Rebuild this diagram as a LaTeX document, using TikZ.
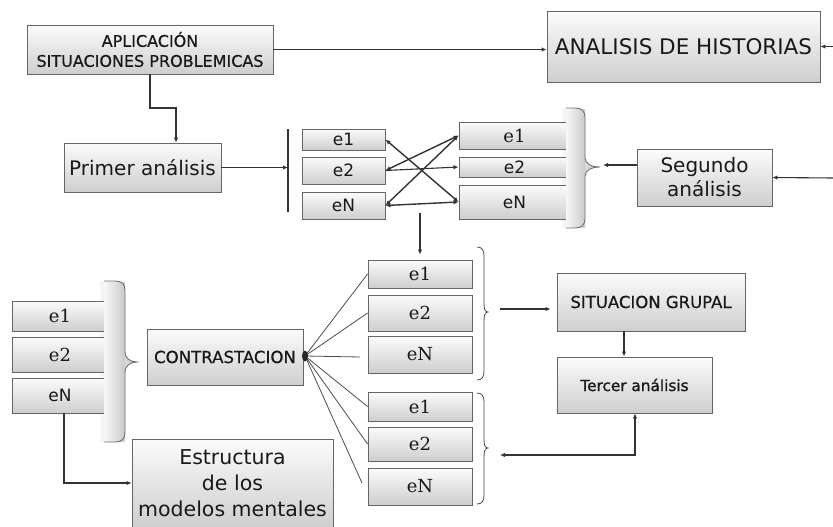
\documentclass[tikz,border=0pt]{standalone}
\usepackage{fontspec}
\newfontfamily\dvs{DejaVu Sans}
\newfontfamily\dvsm[FakeBold=0.6]{DejaVu Sans}
\newfontfamily\dvsb[FakeBold=1.2]{DejaVu Sans}
\newfontfamily\dvserif{DejaVu Serif}
\usetikzlibrary{arrows.meta,shadows}
\tikzset{
  box/.style={draw=black!60, line width=0.9pt, top color=gray!3, bottom color=gray!38,
    inner sep=0pt, align=center, text=black!90,
    drop shadow={shadow xshift=1.3pt, shadow yshift=-1.3pt, opacity=0.3}},
  sbox/.style={box, font=\dvs\fontsize{20}{25}\selectfont},
  ebox/.style={box, font=\dvserif\fontsize{18}{20}\selectfont},
  esbox/.style={box, font=\dvs\fontsize{17}{20}\selectfont},
  conn/.style={draw=black!80, line width=1.1pt},
  xconn/.style={draw=black!80, line width=1.4pt},
  thin/.style={draw=black!70, line width=0.8pt},
  arr/.style={conn, -{Latex[length=5pt,width=4.5pt]}},
  darr/.style={xconn, {Latex[length=5pt,width=4.5pt]}-{Latex[length=5pt,width=4.5pt]}},
  panel/.style={left color=gray!6, right color=gray!42},
  panelline/.style={draw=black!55, line width=0.9pt},
}
\begin{document}
\begin{tikzpicture}[x=1pt,y=-1pt]
\useasboundingbox (0,0) rectangle (833,527);

% gray panels (behind boxes' right ends)
\path[panel] (562,108) -- (575,108) .. controls (582,108) and (585,111) .. (585,118) -- (585,158)
  .. controls (585,164) and (592,167) .. (600,167) .. controls (592,167) and (585,170) .. (585,176)
  -- (585,218) .. controls (585,225) and (582,228) .. (575,228) -- (562,228) -- cycle;
\path[panel] (100,281) -- (115,281) .. controls (122,281) and (125,284) .. (125,291) -- (125,352)
  .. controls (125,358) and (130,362) .. (137,362) .. controls (130,362) and (125,366) .. (125,372)
  -- (125,432) .. controls (125,439) and (122,442) .. (115,442) -- (100,442) -- cycle;

% top row
\node[box, font=\dvsm\fontsize{16}{20}\selectfont, minimum width=246pt, minimum height=49pt]
  (apl) at (150,49.5) {APLICACIÓN\\SITUACIONES PROBLEMICAS};
\node[box, font=\dvs\fontsize{21.5}{24}\selectfont, minimum width=273pt, minimum height=71pt]
  (ana) at (683.5,46.5) {ANALISIS DE HISTORIAS};

% second row
\node[sbox, minimum width=157pt, minimum height=49pt] (pri) at (142.5,167.5) {Primer análisis};
\node[sbox, font=\dvs\fontsize{20}{24}\selectfont, minimum width=135pt, minimum height=57pt]
  (seg) at (704.5,177.5) {Segundo\\análisis};

\node[esbox, minimum width=83pt, minimum height=21pt] (L1) at (343.5,139.5) {e1};
\node[esbox, minimum width=83pt, minimum height=27pt] (L2) at (343.5,170.5) {e2};
\node[esbox, minimum width=83pt, minimum height=27pt] (L3) at (343.5,205.5) {eN};

\node[ebox, minimum width=111pt, minimum height=27pt] (R1) at (514.5,135.5) {e1};
\node[esbox, minimum width=111pt, minimum height=20pt] (R2) at (514.5,167) {e2};
\node[esbox, minimum width=111pt, minimum height=34pt] (R3) at (514.5,202) {eN};

% top-right panel over the boxes' ends
\path[panel] (566,109) rectangle (585,227);
\draw[panelline] (566,108) -- (575,108) .. controls (582,108) and (585,111) .. (585,118) -- (585,158)
  .. controls (585,164) and (592,167) .. (600,167) .. controls (592,167) and (585,170) .. (585,176)
  -- (585,218) .. controls (585,225) and (582,228) .. (575,228) -- (566,228);

% middle groups
\node[ebox, minimum width=104pt, minimum height=28pt] (M1a) at (420,274) {e1};
\node[ebox, minimum width=104pt, minimum height=36pt] (M1b) at (420,313) {e2};
\node[ebox, minimum width=104pt, minimum height=37pt] (M1c) at (420,354.5) {eN};
\node[ebox, minimum width=104pt, minimum height=29pt] (M2a) at (420,406.5) {e1};
\node[ebox, minimum width=104pt, minimum height=34pt] (M2b) at (420,444) {e2};
\node[ebox, minimum width=104pt, minimum height=37pt] (M2c) at (420,486.5) {eN};

% thin braces
\draw[thin] (477,247) .. controls (482,247) and (484,250) .. (484,256) -- (484,303)
  .. controls (484,309) and (485,312) .. (488,312) .. controls (485,312) and (484,315) .. (484,321)
  -- (484,371) .. controls (484,377) and (482,380) .. (477,380);
\draw[thin] (477,393) .. controls (482,393) and (484,396) .. (484,402) -- (484,439)
  .. controls (484,445) and (485,448) .. (488,448) .. controls (485,448) and (484,451) .. (484,457)
  -- (484,495) .. controls (484,501) and (482,504) .. (477,504);

% right boxes
\node[box, font=\dvsm\fontsize{16.5}{20}\selectfont, minimum width=188pt, minimum height=58pt]
  (sit) at (651,302) {SITUACION GRUPAL};
\node[box, font=\dvsb\fontsize{15.3}{18}\selectfont, minimum width=155pt, minimum height=56pt]
  (ter) at (634.5,385) {Tercer análisis};

% left-bottom group
\node[ebox, minimum width=96pt, minimum height=30pt] (B1) at (60,316) {e1};
\node[ebox, minimum width=96pt, minimum height=35pt] (B2) at (60,354.5) {e2};
\node[esbox, minimum width=96pt, minimum height=35pt] (B3) at (60,395.5) {eN};
\path[panel] (104,282) rectangle (125,441);
\draw[panelline] (104,281) -- (115,281) .. controls (122,281) and (125,284) .. (125,291) -- (125,352)
  .. controls (125,358) and (130,362) .. (137,362) .. controls (130,362) and (125,366) .. (125,372)
  -- (125,432) .. controls (125,439) and (122,442) .. (115,442) -- (104,442);

\node[box, font=\dvsm\fontsize{16.6}{20}\selectfont, minimum width=156pt, minimum height=56pt]
  (con) at (225,357) {CONTRASTACION};
\node[sbox, font=\dvs\fontsize{20.5}{26}\selectfont, minimum width=201pt, minimum height=88pt]
  (est) at (232.5,483) {Estructura\\de los\\modelos mentales};

% connectors: top
\coordinate (rin1) at (833,46.5);
\coordinate (rin2) at (833,178);
\draw[arr] (apl.east) -- (apl.east -| ana.west);
\draw[arr] (rin1) -- (ana.east);
\coordinate (k1) at (176,108);
\draw[arr] (apl.south) |- (k1) -- (k1 |- pri.north);

\coordinate (bart) at (288,129);
\coordinate (barb) at (288,212);
\draw[conn] (bart) -- (barb);
\draw[arr] (pri.east) -- (pri.east -| bart);

\draw[darr] (L1.east) -- (R3.west);
\draw[darr] (L2.east) -- (R1.west);
\draw[arr] (L2.east) -- (R2.west);
\draw[darr] (L3.east) -- (R1.west);
\draw[darr] (L3.east) -- (R3.west);

\coordinate (tip1) at (603,165);
\draw[arr] (tip1 -| seg.west) -- (tip1);
\draw[arr] (rin2) -- (seg.east);

\coordinate (dn) at (420,213);
\draw[arr, shorten >=5pt] (dn) -- (M1a.north);

% connectors: right
\coordinate (s1) at (500,309);
\draw[arr, shorten >=6pt] (s1) -- (s1 -| sit.west);
\coordinate (k2) at (624,0);
\draw[arr] (k2 |- sit.south) -- (k2 |- ter.north);
\coordinate (k3) at (635,455);
\coordinate (s2) at (500,455);
\draw[darr] (s2) -- (k3) -- (k3 |- ter.south);

% fan from contrastacion
\coordinate (fan) at (305,356);
\coordinate (f3) at (360,357);
\coordinate (f6) at (362,483);
\draw[thin] (fan) -- (M1a.west);
\draw[thin] (fan) -- (M1b.west);
\draw[thin] (fan) -- (f3);
\draw[thin] (fan) -- (M2a.west);
\draw[thin] (fan) -- (M2b.west);
\draw[thin] (fan) -- (f6);
\fill[black!85] (fan) ellipse (3pt and 5.5pt);

% left bottom connector
\coordinate (k4) at (64,483);
\draw[arr] (k4 |- B3.south) -- (k4) -- (est.west);
\end{tikzpicture}
\end{document}
